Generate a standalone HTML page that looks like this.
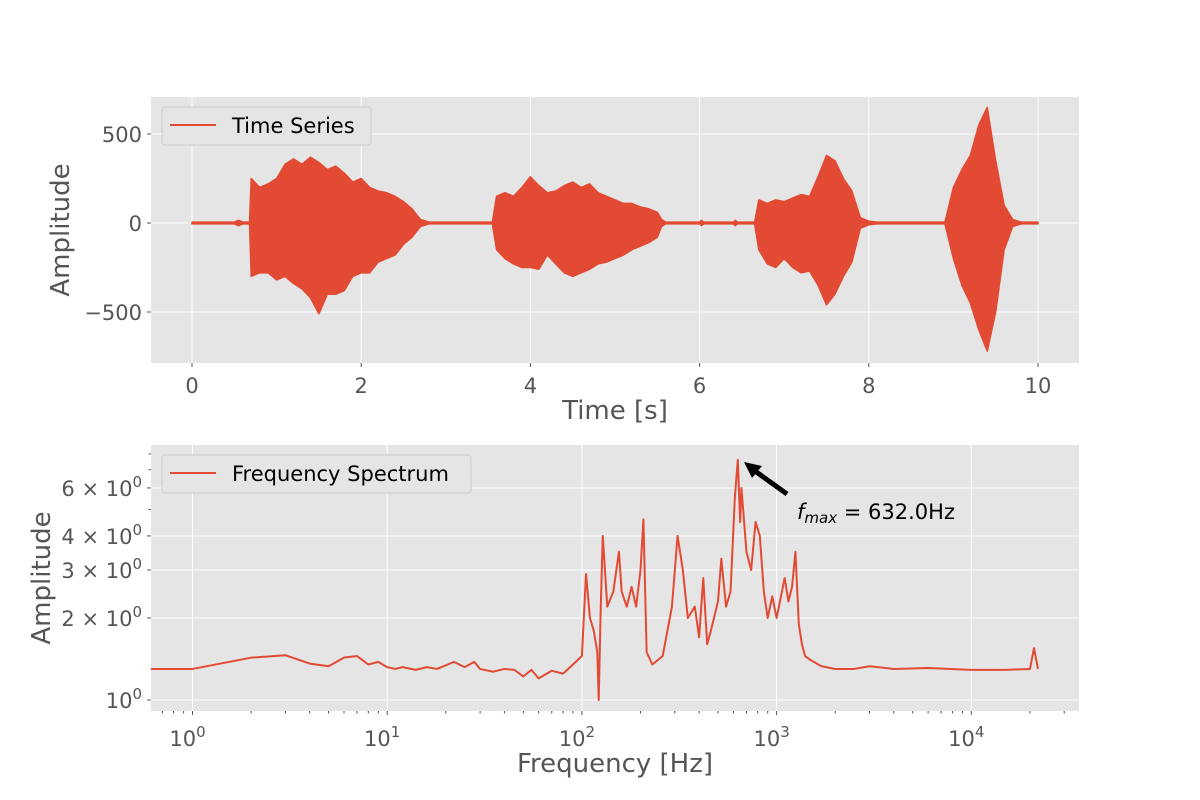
<!DOCTYPE html>
<html><head><meta charset="utf-8"><style>
body{margin:0;background:#fff;}
svg{display:block;font-family:"DejaVu Sans","Liberation Sans",sans-serif;}
</style></head><body>
<svg id="fig" width="1200" height="800" xmlns="http://www.w3.org/2000/svg"></svg>
<script>
// Time series envelope data
const tTimes=[0,0.5,0.55,0.6,0.68,0.7,0.8,0.9,1.0,1.1,1.2,1.3,1.4,1.5,1.6,1.7,1.8,1.9,2.0,2.1,2.2,2.3,2.4,2.5,2.6,2.7,2.8,3.55,3.6,3.7,3.8,3.9,4.0,4.1,4.2,4.3,4.4,4.5,4.6,4.7,4.8,4.9,5.0,5.1,5.2,5.3,5.4,5.5,5.55,5.6,6.0,6.02,6.05,6.4,6.42,6.45,6.65,6.7,6.8,6.9,7.0,7.1,7.2,7.3,7.4,7.5,7.6,7.7,7.8,7.9,8.0,8.1,8.9,9.0,9.1,9.2,9.3,9.4,9.5,9.6,9.7,9.8,10.0];
const tUpper=[5,5,15,5,5,250,200,220,250,330,360,330,370,340,300,320,280,230,250,200,180,170,150,120,80,20,5,5,150,170,150,200,260,210,170,180,210,230,200,220,170,150,130,110,110,90,80,60,20,5,5,15,5,5,15,5,5,130,110,130,120,140,160,150,260,380,350,250,180,30,10,5,5,200,300,380,550,650,350,100,20,5,5];
const tLower=[-5,-5,-15,-5,-5,-300,-280,-280,-320,-300,-340,-370,-420,-510,-400,-400,-380,-300,-280,-280,-220,-200,-180,-120,-80,-20,-5,-5,-150,-200,-230,-250,-250,-260,-180,-230,-280,-300,-280,-260,-230,-220,-200,-180,-150,-130,-110,-80,-20,-5,-5,-15,-5,-5,-15,-5,-5,-150,-230,-250,-200,-250,-280,-270,-350,-460,-400,-300,-220,-30,-10,-5,-5,-200,-350,-450,-600,-720,-500,-150,-20,-5,-5];
const tXTicks=[0,2,4,6,8,10];
const tYTicks=[500,0,-500];
// Spectrum data
const fFreq=[0.5,1,2,3,4,5,6,7,8,9,10,11,12,14,16,18,20,22,25,28,30,35,40,45,50,55,60,70,80,90,100,105,110,115,120,122,125,128,135,145,155,160,170,180,190,200,207,215,230,260,290,310,330,350,380,400,420,440,460,500,520,550,580,610,632,650,660,700,740,780,820,860,900,950,1000,1100,1150,1200,1250,1300,1350,1400,1500,1700,2000,2500,3000,4000,6000,10000,15000,20000,21000,22000];
const fAmp=[1.3,1.3,1.43,1.46,1.36,1.33,1.43,1.45,1.35,1.38,1.32,1.3,1.32,1.29,1.32,1.3,1.34,1.38,1.32,1.38,1.3,1.27,1.3,1.29,1.22,1.29,1.2,1.28,1.25,1.35,1.45,2.9,2.0,1.8,1.5,1.0,2.2,4.0,2.2,2.5,3.5,2.5,2.2,2.6,2.2,3.0,4.6,1.5,1.35,1.45,2.2,4.0,3.0,2.0,2.2,1.7,2.8,1.6,1.8,2.3,3.3,2.2,2.5,5.5,7.6,4.5,6.0,3.5,3.0,4.5,4.0,2.5,2.0,2.4,2.0,2.8,2.3,2.6,3.5,1.9,1.6,1.45,1.4,1.33,1.3,1.3,1.33,1.3,1.31,1.29,1.29,1.3,1.55,1.3];
const fXTicks=[0,1,2,3,4];
const fYTicks=[1,2,3,4,6];
const fYLabels=['10','2','3','4','6'];

const svg=document.getElementById('fig');
const NS='http://www.w3.org/2000/svg';
function mk(tag,attrs,parent,name,txt){const e=document.createElementNS(NS,tag);for(const k in attrs)e.setAttribute(k,attrs[k]);


if(txt!==undefined)e.textContent=txt;(parent||svg).appendChild(e);return e;}
const RED='#E24A33',GRAY='#555';
const TF=21,AF=26,LF=21;
const L=151,R=1079;
// ---- top axes
const T1=97,B1=363;
const xs1=t=>192+(t)*84.6;
const ys1=v=>223-v*0.178;
mk('rect',{x:L,y:T1,width:R-L,height:B1-T1,fill:'#e5e5e5'},null,'top-plot-area');
const g1=mk('g',{},null,'top-gridlines');
tXTicks.forEach(t=>{mk('line',{x1:xs1(t),x2:xs1(t),y1:T1,y2:B1,stroke:'#fff','stroke-width':1},g1,'x-gridline');
mk('line',{x1:xs1(t),x2:xs1(t),y1:B1,y2:B1+4,stroke:GRAY},null,'x-tick');
mk('text',{x:xs1(t),y:B1+30,'font-size':TF,fill:GRAY,'text-anchor':'middle'},null,'x-tick-label',String(t));});
tYTicks.forEach(v=>{mk('line',{x1:L,x2:R,y1:ys1(v),y2:ys1(v),stroke:'#fff'},g1,'y-gridline');
mk('line',{x1:L-4,x2:L,y1:ys1(v),y2:ys1(v),stroke:GRAY},null,'y-tick');
mk('text',{x:L-9,y:ys1(v)+8,'font-size':TF,fill:GRAY,'text-anchor':'end'},null,'y-tick-label',v<0?'\u2212'+(-v):String(v));});
let pts=tTimes.map((t,i)=>xs1(t)+','+ys1(tUpper[i]));
for(let i=tTimes.length-1;i>=0;i--)pts.push(xs1(tTimes[i])+','+ys1(tLower[i]));
mk('polygon',{points:pts.join(' '),fill:RED,stroke:RED,'stroke-width':1.5,'stroke-linejoin':'round'},null,'time-series-line');
mk('text',{x:615,y:419,'font-size':AF,fill:GRAY,'text-anchor':'middle'},null,'x-axis-title-time','Time [s]');
mk('text',{x:0,y:0,'font-size':AF,fill:GRAY,'text-anchor':'middle',transform:'translate(69,230) rotate(-90)'},null,'y-axis-title-top','Amplitude');
const lg1=mk('g',{},null,'legend-time-series');
mk('rect',{x:162,y:107,width:209,height:38,rx:3,fill:'#e5e5e5',stroke:'#ccc'},lg1,'legend-box');
mk('line',{x1:170,x2:216,y1:125,y2:125,stroke:RED,'stroke-width':2},lg1,'legend-swatch');
mk('text',{x:232,y:133,'font-size':LF,fill:'#000'},lg1,'legend-label','Time Series');
// ---- bottom axes
const T2=445,B2=711;
const xs2=f=>192.5+Math.log10(f)*194.7;
const ys2=a=>700-Math.log10(a)*272.5;
mk('rect',{x:L,y:T2,width:R-L,height:B2-T2,fill:'#e5e5e5'},null,'bottom-plot-area');
const g2=mk('g',{},null,'bottom-gridlines');
fXTicks.forEach(d=>{const x=xs2(Math.pow(10,d));
mk('line',{x1:x,x2:x,y1:T2,y2:B2,stroke:'#fff'},g2,'x-gridline');
mk('line',{x1:x,x2:x,y1:B2,y2:B2+4,stroke:GRAY},null,'x-tick');
const tx=mk('text',{x:x-5,y:B2+35,'font-size':TF,fill:GRAY,'text-anchor':'middle'},null,'x-tick-label','10');
const s=document.createElementNS(NS,'tspan');s.setAttribute('dy','-9');s.setAttribute('font-size','15');s.textContent=String(d);tx.appendChild(s);});
for(let d=-1;d<=4;d++)for(let m=2;m<=9;m++){const x=xs2(m*Math.pow(10,d));if(x>L&&x<R)mk('line',{x1:x,x2:x,y1:B2,y2:B2+2.5,stroke:GRAY},null,'x-minor-tick');}
[0.9,5,7,8].forEach(a=>{const y=ys2(a);if(y>T2&&y<B2)mk('line',{x1:L-2.5,x2:L,y1:y,y2:y,stroke:GRAY},null,'y-minor-tick');});
fYTicks.forEach((a,i)=>{const y=ys2(a);
mk('line',{x1:L,x2:R,y1:y,y2:y,stroke:'#fff'},g2,'y-gridline');
mk('line',{x1:L-4,x2:L,y1:y,y2:y,stroke:GRAY},null,'y-tick');
const tx=mk('text',{x:L-9,y:y+8,'font-size':TF,fill:GRAY,'text-anchor':'end'},null,'y-tick-label',a===1?'10':fYLabels[i]+' \u00d7 10');
const s=document.createElementNS(NS,'tspan');s.setAttribute('dy','-9');s.setAttribute('font-size','15');s.textContent='0';tx.appendChild(s);});
const clip=mk('clipPath',{id:'c2'},null,'clip');mk('rect',{x:L,y:T2,width:R-L,height:B2-T2},clip,'clip-rect');
mk('polyline',{points:fFreq.map((f,i)=>xs2(f)+','+ys2(fAmp[i])).join(' '),fill:'none',stroke:RED,'stroke-width':2,'stroke-linejoin':'round','clip-path':'url(#c2)'},null,'frequency-spectrum-line');
mk('text',{x:615,y:772,'font-size':AF,fill:GRAY,'text-anchor':'middle'},null,'x-axis-title-frequency','Frequency [Hz]');
mk('text',{x:0,y:0,'font-size':AF,fill:GRAY,'text-anchor':'middle',transform:'translate(50,578) rotate(-90)'},null,'y-axis-title-bottom','Amplitude');
const lg2=mk('g',{},null,'legend-frequency-spectrum');
mk('rect',{x:162,y:455,width:309,height:38,rx:3,fill:'#e5e5e5',stroke:'#ccc'},lg2,'legend-box');
mk('line',{x1:170,x2:216,y1:473,y2:473,stroke:RED,'stroke-width':2},lg2,'legend-swatch');
mk('text',{x:232,y:481,'font-size':LF,fill:'#000'},lg2,'legend-label','Frequency Spectrum');
// annotation
const an=mk('g',{},null,'fmax-annotation');
mk('line',{x1:787,y1:494,x2:755,y2:471,stroke:'#000','stroke-width':5},an,'annotation-arrow-shaft');
mk('polygon',{points:'744,462 762,466 752,478',fill:'#000'},an,'annotation-arrow-head');
const at=mk('text',{x:797,y:519,'font-size':LF,fill:'#000'},an,'annotation-label');
const i1=document.createElementNS(NS,'tspan');i1.setAttribute('font-style','italic');i1.textContent='f';at.appendChild(i1);
const i2=document.createElementNS(NS,'tspan');i2.setAttribute('font-style','italic');i2.setAttribute('font-size','15');i2.setAttribute('dy','4');i2.textContent='max';at.appendChild(i2);
const i3=document.createElementNS(NS,'tspan');i3.setAttribute('dy','-4');i3.textContent=' = 632.0Hz';at.appendChild(i3);
</script>
</body></html>
